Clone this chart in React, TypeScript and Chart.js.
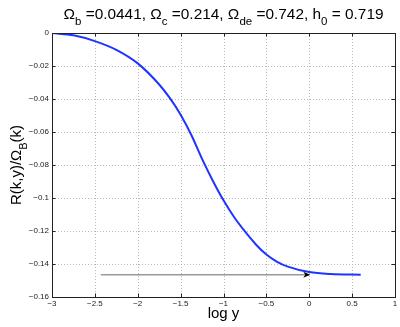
import React, { useEffect, useRef } from "react";
import { Chart, registerables } from "chart.js";

Chart.register(...registerables);

const logY = [-3, -2.75, -2.5, -2.25, -2, -1.75, -1.625, -1.5, -1.375, -1.25, -1.125, -1, -0.875, -0.75, -0.625, -0.5, -0.375, -0.25, 0, 0.25, 0.6];
const ratio = [0, -0.0014, -0.0049, -0.0102, -0.0184, -0.0312, -0.0395, -0.0495, -0.0618, -0.0763, -0.0895, -0.1014, -0.1117, -0.1203, -0.128, -0.1343, -0.1387, -0.1416, -0.1449, -0.1461, -0.1465];
const arrowX = [-2.43, 0];
const arrowY = [-0.1465, -0.1465];
const xTicks = [-3, -2.5, -2, -1.5, -1, -0.5, 0, 0.5, 1];
const yTicks = [0, -0.02, -0.04, -0.06, -0.08, -0.1, -0.12, -0.14, -0.16];

const FONT = "'Liberation Sans', Arial, Helvetica, sans-serif";

type Part = [string, boolean];
const titleParts: Part[] = [
  ["\u03A9", false], ["b", true], [" =0.0441, \u03A9", false], ["c", true],
  [" =0.214, \u03A9", false], ["de", true], [" =0.742, h", false], ["0", true], [" = 0.719", false],
];
const yLabelParts: Part[] = [["R(k,y)/\u03A9", false], ["B", true], ["(k)", false]];
const xLabel = "log y";

function fmt(v: number): string {
  const s = String(Math.round(v * 1000) / 1000);
  return s.replace("-", "\u2212");
}

function drawRich(ctx: CanvasRenderingContext2D, parts: Part[], cx: number, y: number, size: number, subSize: number, subOff: number) {
  let total = 0;
  for (const [t, sub] of parts) {
    ctx.font = `${sub ? subSize : size}px ${FONT}`;
    total += ctx.measureText(t).width;
  }
  let x = cx - total / 2;
  ctx.textAlign = "left";
  ctx.textBaseline = "alphabetic";
  for (const [t, sub] of parts) {
    ctx.font = `${sub ? subSize : size}px ${FONT}`;
    ctx.fillText(t, x, y + (sub ? subOff : 0));
    x += ctx.measureText(t).width;
  }
}

const decor = {
  id: "decor",
  beforeDatasetsDraw(chart: any) {
    const ctx: CanvasRenderingContext2D = chart.ctx;
    const { left, right, top, bottom } = chart.chartArea;
    const xs = chart.scales.x;
    const ys = chart.scales.y;
    ctx.save();
    ctx.strokeStyle = "#b8b8b8";
    ctx.lineWidth = 1;
    ctx.setLineDash([1, 2]);
    ctx.beginPath();
    for (const v of xTicks) {
      const px = Math.round(xs.getPixelForValue(v)) + 0.5;
      ctx.moveTo(px, top);
      ctx.lineTo(px, bottom);
    }
    for (const v of yTicks) {
      const py = Math.round(ys.getPixelForValue(v)) + 0.5;
      ctx.moveTo(left, py);
      ctx.lineTo(right, py);
    }
    ctx.stroke();
    ctx.restore();
  },
  afterDatasetsDraw(chart: any) {
    const ctx: CanvasRenderingContext2D = chart.ctx;
    const { left, right, top, bottom } = chart.chartArea;
    const xs = chart.scales.x;
    const ys = chart.scales.y;
    ctx.save();
    // arrow head
    const tx = xs.getPixelForValue(arrowX[1]);
    const ty = ys.getPixelForValue(arrowY[1]);
    ctx.fillStyle = "#000";
    ctx.beginPath();
    ctx.moveTo(tx + 1, ty);
    ctx.lineTo(tx - 6, ty - 3);
    ctx.lineTo(tx - 4, ty);
    ctx.lineTo(tx - 6, ty + 3);
    ctx.closePath();
    ctx.fill();
    // box
    ctx.strokeStyle = "#222";
    ctx.lineWidth = 1;
    ctx.strokeRect(Math.round(left) + 0.5, Math.round(top) + 0.5, Math.round(right - left), Math.round(bottom - top));
    // inward ticks
    ctx.beginPath();
    for (const v of xTicks) {
      const px = Math.round(xs.getPixelForValue(v)) + 0.5;
      ctx.moveTo(px, bottom);
      ctx.lineTo(px, bottom - 3.5);
      ctx.moveTo(px, top);
      ctx.lineTo(px, top + 3.5);
    }
    for (const v of yTicks) {
      const py = Math.round(ys.getPixelForValue(v)) + 0.5;
      ctx.moveTo(left, py);
      ctx.lineTo(left + 3.5, py);
      ctx.moveTo(right, py);
      ctx.lineTo(right - 3.5, py);
    }
    ctx.stroke();
    // titles
    ctx.fillStyle = "#000";
    const cx = (left + right) / 2;
    drawRich(ctx, titleParts, cx, 18.5, 15.4, 11.5, 6);
    ctx.font = `15px ${FONT}`;
    ctx.textAlign = "center";
    ctx.textBaseline = "alphabetic";
    ctx.fillText(xLabel, cx, 318);
    ctx.translate(20.5, (top + bottom) / 2);
    ctx.rotate(-Math.PI / 2);
    drawRich(ctx, yLabelParts, 0, 0, 15, 11, 6);
    ctx.restore();
  },
};

export default function App() {
  const ref = useRef<HTMLCanvasElement | null>(null);
  useEffect(() => {
    if (!ref.current) return;
    const chart = new Chart(ref.current, {
      type: "line",
      data: {
        datasets: [
          {
            data: logY.map((x, i) => ({ x, y: ratio[i] })),
            borderColor: "#1f35ff",
            borderWidth: 2,
            pointRadius: 0,
            cubicInterpolationMode: "monotone",
            fill: false,
            order: 0,
          },
          {
            data: arrowX.map((x, i) => ({ x, y: arrowY[i] })),
            borderColor: "#9a9a9a",
            borderWidth: 1.5,
            pointRadius: 0,
            fill: false,
            order: 1,
          },
        ],
      },
      options: {
        animation: false,
        responsive: false,
        maintainAspectRatio: false,
        layout: { padding: { left: 0, right: 5, top: 33, bottom: 0 } },
        plugins: { legend: { display: false }, tooltip: { enabled: false }, title: { display: false } },
        scales: {
          x: {
            type: "linear",
            min: -3,
            max: 1,
            afterFit: (s: any) => { s.height = 30; },
            afterBuildTicks: (s: any) => { s.ticks = xTicks.map((v) => ({ value: v })); },
            ticks: { callback: (v: any) => fmt(Number(v)), font: { family: FONT, size: 8 }, color: "#222", padding: 2, maxRotation: 0, autoSkip: false },
            grid: { display: false, drawTicks: false, tickLength: 0 },
            border: { display: false },
          },
          y: {
            type: "linear",
            min: -0.16,
            max: 0,
            afterFit: (s: any) => { s.width = 52; },
            afterBuildTicks: (s: any) => { s.ticks = yTicks.map((v) => ({ value: v })); },
            ticks: { callback: (v: any) => fmt(Number(v)), font: { family: FONT, size: 8 }, color: "#222", padding: 3, autoSkip: false },
            grid: { display: false, drawTicks: false, tickLength: 0 },
            border: { display: false },
          },
        },
      },
      plugins: [decor],
    } as any);
    return () => chart.destroy();
  }, []);
  return (
    <div style={{ position: "fixed", left: 0, top: 0, width: 400, height: 327, background: "#fff" }}>
      <canvas ref={ref} width={400} height={327} style={{ width: 400, height: 327 }} />
    </div>
  );
}
